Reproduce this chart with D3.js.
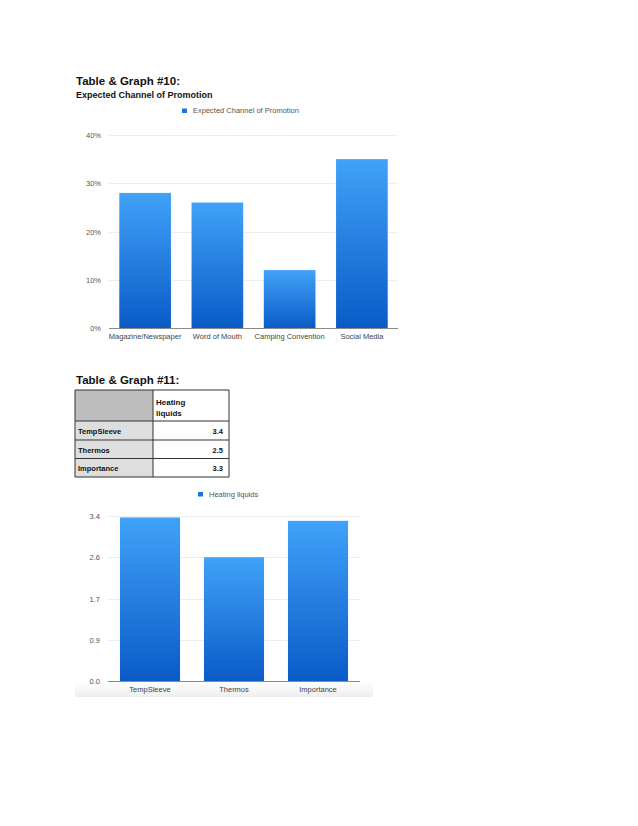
<html lang="en">
<head>
<style>
    body { margin: 0; background: #fff; }
    text { font-family: "Liberation Sans", Arial, sans-serif; }
</style>
</head>
<body>
<script type='text/javascript' src='https://d3js.org/d3.v7.min.js'></script>
<script>
    // graph #10
    var channels = ["Magazine/Newspaper", "Word of Mouth", "Camping Convention", "Social Media"];
    var channelShare = [0.28, 0.26, 0.12, 0.35];
    var shareTicks = [0, 0.1, 0.2, 0.3, 0.4];
    var shareTickLabels = ["0%", "10%", "20%", "30%", "40%"];

    // graph #11
    var products = ["TempSleeve", "Thermos", "Importance"];
    var heating = [3.37, 2.55, 3.3];
    var tableValues = ["3.4", "2.5", "3.3"];
    var heatTicks = [0, 0.85, 1.7, 2.55, 3.4];
    var heatTickLabels = ["0.0", "0.9", "1.7", "2.6", "3.4"];

    var svg = d3.select("body").append("svg")
        .attr("width", 638)
        .attr("height", 826);

    var defs = svg.append("defs");
    var grad = defs.append("linearGradient")
        .attr("id", "barGrad")
        .attr("x1", 0).attr("y1", 0).attr("x2", 0).attr("y2", 1);
    grad.append("stop").attr("offset", "0%").attr("stop-color", "#40a2f8");
    grad.append("stop").attr("offset", "100%").attr("stop-color", "#0a5bc7");

    var foot = defs.append("linearGradient")
        .attr("id", "footGrad")
        .attr("x1", 0).attr("y1", 0).attr("x2", 0).attr("y2", 1);
    foot.append("stop").attr("offset", "0%").attr("stop-color", "#ffffff");
    foot.append("stop").attr("offset", "100%").attr("stop-color", "#eeeeee");

    function heading(y, txt, size) {
        svg.append("text")
            .attr("x", 76).attr("y", y)
            .attr("font-size", size)
            .attr("font-weight", "bold")
            .attr("fill", "#111")
            .text(txt);
    }

    function barChart(opts) {
        var x = d3.scaleBand()
            .domain(opts.cats)
            .range([opts.left, opts.right])
            .paddingInner(0.285)
            .paddingOuter(0.1425);
        var y = d3.scaleLinear()
            .domain([0, opts.max])
            .range([opts.bottom, opts.top]);

        var g = svg.append("g");

        // legend
        g.append("rect")
            .attr("x", opts.legendX).attr("y", opts.legendY - 4.5)
            .attr("width", 5).attr("height", 4.5)
            .attr("fill", "#1a74dc");
        g.append("text")
            .attr("x", opts.legendX + 11).attr("y", opts.legendY)
            .attr("font-size", 7.5).attr("fill", "#555")
            .text(opts.legend);

        // grid
        g.selectAll(".grid")
            .data(opts.ticks.slice(1))
            .enter().append("line")
            .attr("x1", opts.left).attr("x2", opts.right)
            .attr("y1", function(d) { return Math.round(y(d)) + 0.5; })
            .attr("y2", function(d) { return Math.round(y(d)) + 0.5; })
            .attr("stroke", "#eeeeee");

        // y labels
        g.selectAll(".ylab")
            .data(opts.ticks)
            .enter().append("text")
            .attr("x", opts.left - 8)
            .attr("y", function(d) { return y(d) + 3; })
            .attr("text-anchor", "end")
            .attr("font-size", 7.5).attr("fill", "#555")
            .text(function(d, i) { return opts.labels[i]; });

        // bars
        g.selectAll(".bar")
            .data(opts.vals)
            .enter().append("rect")
            .attr("x", function(d, i) { return x(opts.cats[i]); })
            .attr("y", function(d) { return y(d); })
            .attr("width", x.bandwidth())
            .attr("height", function(d) { return opts.bottom - y(d); })
            .attr("fill", "url(#barGrad)");

        // axis line
        g.append("line")
            .attr("x1", opts.left).attr("x2", opts.right)
            .attr("y1", opts.bottom + 0.5).attr("y2", opts.bottom + 0.5)
            .attr("stroke", "#8a8a8a");

        // x labels
        g.selectAll(".xlab")
            .data(opts.cats)
            .enter().append("text")
            .attr("x", function(d) { return x(d) + x.bandwidth() / 2; })
            .attr("y", opts.bottom + 11)
            .attr("text-anchor", "middle")
            .attr("font-size", 7.5).attr("fill", "#444")
            .text(function(d) { return d; });
    }

    heading(85, "Table & Graph #10:", 11.5);
    heading(98, "Expected Channel of Promotion", 9);

    barChart({
        cats: channels, vals: channelShare, ticks: shareTicks, labels: shareTickLabels, max: 0.4,
        left: 109, right: 398, top: 135, bottom: 328,
        legend: "Expected Channel of Promotion", legendX: 182, legendY: 113
    });

    heading(384, "Table & Graph #11:", 11.5);

    // table
    var tbl = svg.append("g");
    var colX = [75, 153, 229];
    var rowY = [390, 421, 440, 458.5, 477];
    tbl.append("rect")
        .attr("x", colX[0]).attr("y", rowY[0])
        .attr("width", colX[1] - colX[0]).attr("height", rowY[1] - rowY[0])
        .attr("fill", "#bdbdbd");
    tbl.selectAll(".lab")
        .data(products)
        .enter().append("rect")
        .attr("x", colX[0])
        .attr("y", function(d, i) { return rowY[i + 1]; })
        .attr("width", colX[1] - colX[0])
        .attr("height", function(d, i) { return rowY[i + 2] - rowY[i + 1]; })
        .attr("fill", "#dedede");
    tbl.selectAll(".hl")
        .data(rowY)
        .enter().append("line")
        .attr("x1", colX[0]).attr("x2", colX[2])
        .attr("y1", function(d) { return d; }).attr("y2", function(d) { return d; })
        .attr("stroke", "#333").attr("stroke-width", 1);
    tbl.selectAll(".vl")
        .data(colX)
        .enter().append("line")
        .attr("x1", function(d) { return d; }).attr("x2", function(d) { return d; })
        .attr("y1", rowY[0]).attr("y2", rowY[4])
        .attr("stroke", "#333").attr("stroke-width", 1);
    tbl.append("text")
        .attr("x", 156).attr("y", 405)
        .attr("font-size", 8).attr("font-weight", "bold").attr("fill", "#111")
        .text("Heating");
    tbl.append("text")
        .attr("x", 156).attr("y", 416)
        .attr("font-size", 8).attr("font-weight", "bold").attr("fill", "#111")
        .text("liquids");
    tbl.selectAll(".rl")
        .data(products)
        .enter().append("text")
        .attr("x", 78)
        .attr("y", function(d, i) { return rowY[i + 1] + 12.5; })
        .attr("font-size", 7.5).attr("font-weight", "bold").attr("fill", "#111")
        .text(function(d) { return d; });
    tbl.selectAll(".rv")
        .data(tableValues)
        .enter().append("text")
        .attr("x", 223)
        .attr("y", function(d, i) { return rowY[i + 1] + 12.5; })
        .attr("text-anchor", "end")
        .attr("font-size", 7.5).attr("font-weight", "bold").attr("fill", "#111")
        .text(function(d) { return d; });

    // grey footer under graph #11
    svg.append("rect")
        .attr("x", 75).attr("y", 681)
        .attr("width", 298).attr("height", 16)
        .attr("fill", "url(#footGrad)");

    barChart({
        cats: products, vals: heating, ticks: heatTicks, labels: heatTickLabels, max: 3.4,
        left: 108, right: 360, top: 516, bottom: 681,
        legend: "Heating liquids", legendX: 198, legendY: 496.5
    });
</script>
</body>
</html>
